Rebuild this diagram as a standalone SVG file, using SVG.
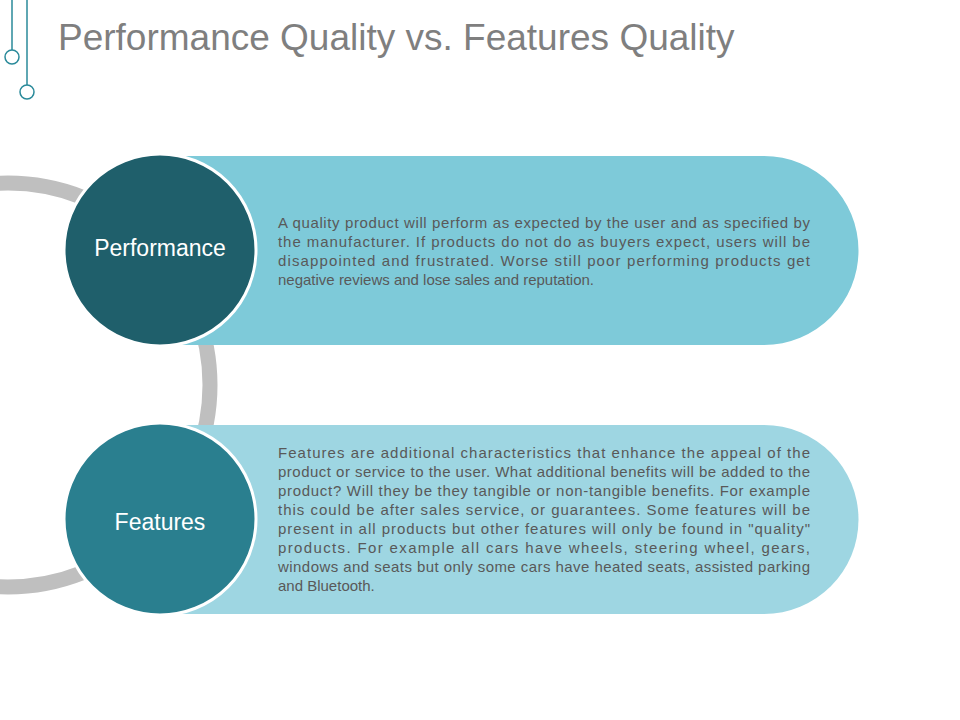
<svg xmlns="http://www.w3.org/2000/svg" width="960" height="720" viewBox="0 0 960 720">
<style>
.t{font-family:"Liberation Sans",Arial,sans-serif;font-size:15px;fill:#595959}
.lbl{font-family:"Liberation Sans",Arial,sans-serif;font-size:23px;fill:#fff;text-anchor:middle}
.deco{stroke:#2a8a9a;stroke-width:1.5;fill:#fff}
</style>
<rect width="960" height="720" fill="#fff"/>
<g id="deco">
<line x1="12" y1="0" x2="12" y2="50" class="deco"/>
<circle cx="12" cy="57" r="7" class="deco"/>
<line x1="27" y1="0" x2="27" y2="85" class="deco"/>
<circle cx="27" cy="92" r="7" class="deco"/>
</g>
<text x="58" y="50" font-family="Liberation Sans,Arial,sans-serif" font-size="37" fill="#7f7f7f">Performance Quality vs. Features Quality</text>
<g id="connectors">
<circle cx="8" cy="385" r="202" fill="none" stroke="#bfbfbf" stroke-width="15"/>
</g>
<g id="performance">
<path d="M160 156 H764 A94.5 94.5 0 0 1 764 345 H160 Z" fill="#7ecad9"/>
<circle cx="160" cy="250" r="96" fill="#1f5f6b" stroke="#fff" stroke-width="3"/>
<text x="160" y="256" class="lbl">Performance</text>
<text class="t">
<tspan x="278" y="228" textLength="532" lengthAdjust="spacing">A quality product will perform as expected by the user and as specified by</tspan>
<tspan x="278" y="247" textLength="532" lengthAdjust="spacing">the manufacturer. If products do not do as buyers expect, users will be</tspan>
<tspan x="278" y="266" textLength="532" lengthAdjust="spacing">disappointed and frustrated. Worse still poor performing products get</tspan>
<tspan x="278" y="285">negative reviews and lose sales and reputation.</tspan>
</text>
</g>
<g id="features">
<path d="M160 425 H764 A94.5 94.5 0 0 1 764 614 H160 Z" fill="#9ed6e2"/>
<circle cx="160" cy="519" r="96" fill="#2a7f8f" stroke="#fff" stroke-width="3"/>
<text x="160" y="530" class="lbl">Features</text>
<text class="t">
<tspan x="278" y="458" textLength="532" lengthAdjust="spacing">Features are additional characteristics that enhance the appeal of the</tspan>
<tspan x="278" y="477" textLength="532" lengthAdjust="spacing">product or service to the user. What additional benefits will be added to the</tspan>
<tspan x="278" y="496" textLength="532" lengthAdjust="spacing">product? Will they be they tangible or non-tangible benefits. For example</tspan>
<tspan x="278" y="515" textLength="532" lengthAdjust="spacing">this could be after sales service, or guarantees. Some features will be</tspan>
<tspan x="278" y="534" textLength="532" lengthAdjust="spacing">present in all products but other features will only be found in "quality"</tspan>
<tspan x="278" y="553" textLength="532" lengthAdjust="spacing">products. For example all cars have wheels, steering wheel, gears,</tspan>
<tspan x="278" y="572" textLength="532" lengthAdjust="spacing">windows and seats but only some cars have heated seats, assisted parking</tspan>
<tspan x="278" y="591">and Bluetooth.</tspan>
</text>
</g>
</svg>
